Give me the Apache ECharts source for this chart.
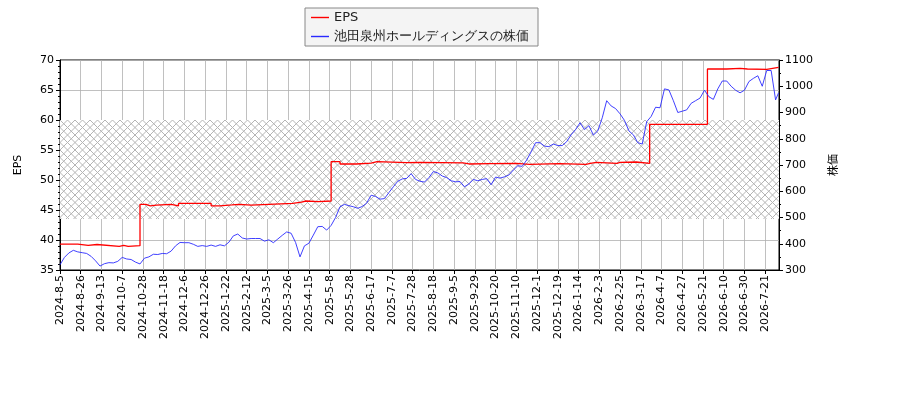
<!DOCTYPE html>
<html>
<head>
<meta charset="utf-8">
<script src="https://cdn.jsdelivr.net/npm/echarts@6/dist/echarts.min.js"></script>
<style>html,body{margin:0;padding:0;background:#fff;}#c{width:900px;height:400px;}</style>
</head>
<body>
<div id="c"></div>
<script>
// x tick labels (one every 14 trading days, starting at trading-day index 0)
const tickLabels = ["2024-8-5","2024-8-26","2024-9-13","2024-10-7","2024-10-28","2024-11-18","2024-12-6","2024-12-26","2025-1-22","2025-2-12","2025-3-5","2025-3-26","2025-4-15","2025-5-8","2025-5-28","2025-6-17","2025-7-7","2025-7-28","2025-8-18","2025-9-5","2025-9-29","2025-10-20","2025-11-10","2025-12-1","2025-12-19","2026-1-14","2026-2-3","2026-2-25","2026-3-17","2026-4-7","2026-4-27","2026-5-21","2026-6-10","2026-6-30","2026-7-21"];
const tickStep = 14;
const lastIndex = 485;

// EPS: trading-day index where each level starts, and the level
const epsStart = [0,12,19,25,40,43,46,54,58,61,65,75,80,102,108,116,121,129,157,163,166,174,183,189,200,210,214,234,243,272,276,290,308,317,337,355,358,362,376,378,389,398,437,450,459,464,477,485];
const epsValue = [39.3,39.1,39.25,38.95,39.1,38.95,39.05,45.95,45.7,45.8,45.95,45.7,46.1,45.7,45.85,45.95,45.8,46.1,46.3,46.5,46.4,46.5,53.05,52.67,52.8,53.05,52.9,52.95,52.85,52.67,52.72,52.78,52.62,52.72,52.62,52.78,52.94,52.78,52.94,53.0,52.78,59.28,68.5,68.6,68.5,68.45,68.78,68.78];

// Share price, one reading every 3 trading days (index 0,3,6,...), last one at index 485
const priceStep = 3;
const priceValue = [320,348,365,375,369,366,363,352,335,315,324,328,327,333,348,342,340,330,323,345,350,360,359,363,362,372,392,405,404,404,398,390,393,390,395,390,396,392,406,430,437,422,418,
420,420,420,410,415,404,418,432,445,440,405,350,392,402,433,465,466,452,470,500,541,550,545,541,535,542,555,585,580,570,572,595,617,638,647,649,667,645,638,635,652,675,670,
658,652,640,636,637,617,628,645,640,645,648,625,654,650,655,662,681,697,695,719,750,785,785,772,770,780,774,774,789,815,835,861,835,850,814,830,880,945,925,915,895,870,830,
815,785,780,865,885,920,918,990,986,945,900,905,910,935,945,955,985,960,950,990,1020,1020,1000,985,975,985,1018,1030,1040,1000,1060,1060,948,975];

const epsData = epsStart.map((x, k) => [x, epsValue[k]]);
const priceData = priceValue.map((v, k) => [Math.min(k * priceStep, lastIndex), v]);
const tickValues = tickLabels.map((_, k) => k * tickStep);

function hatch() {
  const c = document.createElement('canvas');
  const s = 15;
  c.width = s; c.height = s;
  const g = c.getContext('2d');
  g.fillStyle = '#ffffff';
  g.fillRect(0, 0, s, s);
  g.strokeStyle = '#b4b4b4';
  g.lineWidth = 1;
  for (let o = -s; o <= 2 * s; o += 7.5) {
    g.beginPath(); g.moveTo(o, 0); g.lineTo(o + s, s); g.stroke();
    g.beginPath(); g.moveTo(o, s); g.lineTo(o + s, 0); g.stroke();
  }
  return c;
}

const font = 'DejaVu Sans';
const chart = echarts.init(document.getElementById('c'), null, {renderer: 'canvas'});
chart.setOption({
  animation: false,
  textStyle: {fontFamily: font},
  grid: {left: 60, right: 121, top: 60, bottom: 130, show: true, borderColor: '#000', borderWidth: 1, backgroundColor: 'transparent'},
  legend: {
    data: ['EPS', '池田泉州ホールディングスの株価'],
    orient: 'vertical', left: 305, top: 8,
    backgroundColor: '#f4f4f4', borderColor: '#888', borderWidth: 1, borderRadius: 0,
    padding: [3, 9, 3, 6], itemGap: 6, itemWidth: 18, itemHeight: 8,
    textStyle: {fontFamily: font, fontSize: 13, color: '#222'},
    icon: 'path://M0,4L18,4L18,5.4L0,5.4Z'
  },
  xAxis: {
    type: 'value', min: 0, max: 485.3,
    axisLine: {show: true, lineStyle: {color: '#000'}},
    axisTick: {show: true, length: 4, lineStyle: {color: '#000'}, customValues: tickValues},
    axisLabel: {customValues: tickValues, rotate: 90, fontSize: 11, color: '#000', fontFamily: font, margin: 5,
      formatter: v => tickLabels[Math.round(v / tickStep)] || ''},
    splitLine: {show: true, lineStyle: {color: '#b0b0b0', width: 0.8}}
  },
  yAxis: [
    {type: 'value', min: 35, max: 70, interval: 5, name: 'EPS', nameLocation: 'middle', nameGap: 36, nameRotate: 90,
      nameTextStyle: {fontFamily: font, fontSize: 11, color: '#000'},
      axisLine: {show: true, lineStyle: {color: '#000'}},
      axisTick: {show: true, length: 4, lineStyle: {color: '#000'}},
      minorTick: {show: true, splitNumber: 5, length: 2, lineStyle: {color: '#000'}},
      axisLabel: {fontSize: 11, color: '#000', fontFamily: font, margin: 6},
      splitLine: {show: true, lineStyle: {color: '#b0b0b0', width: 0.8}}},
    {type: 'value', min: 300, max: 1100, interval: 100, name: '株価', nameLocation: 'middle', nameGap: 48, nameRotate: 90,
      nameTextStyle: {fontFamily: 'Noto Sans CJK JP', fontSize: 11, color: '#000'},
      position: 'right',
      axisLine: {show: true, lineStyle: {color: '#000'}},
      axisTick: {show: true, length: 4, lineStyle: {color: '#000'}},
      minorTick: {show: true, splitNumber: 2, length: 2, lineStyle: {color: '#000'}},
      axisLabel: {fontSize: 11, color: '#000', fontFamily: font, margin: 6, formatter: v => String(v)},
      splitLine: {show: false}}
  ],
  series: [
    {name: 'hatch', type: 'line', data: epsData, yAxisIndex: 0, z: -1, silent: true, symbol: 'none',
      lineStyle: {opacity: 0}, tooltip: {show: false},
      markArea: {silent: true, itemStyle: {color: {image: hatch(), repeat: 'repeat'}},
        data: [[{yAxis: 43.5, xAxis: 0}, {yAxis: 60, xAxis: 485.3}]]}},
    {name: 'EPS', type: 'line', data: epsData, yAxisIndex: 0, step: 'end', symbol: 'none',
      lineStyle: {color: '#ff0000', width: 1.3}, itemStyle: {color: '#ff0000'}, z: 3},
    {name: '池田泉州ホールディングスの株価', type: 'line', data: priceData, yAxisIndex: 1, symbol: 'none',
      lineStyle: {color: '#2a2aff', width: 0.9}, itemStyle: {color: '#2a2aff'}, z: 4}
  ]
});
</script>
</body>
</html>
